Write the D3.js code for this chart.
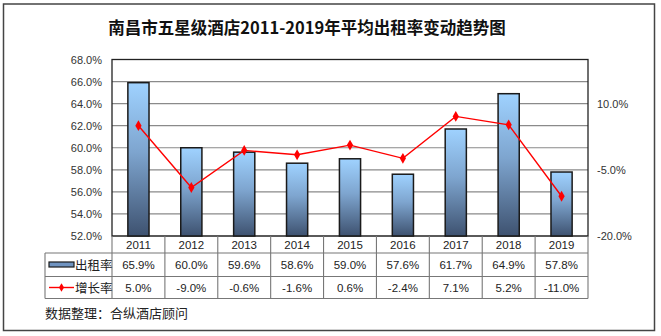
<!DOCTYPE html>
<html>
<head>
<meta charset="utf-8">
<script src="https://cdn.jsdelivr.net/npm/d3@7/dist/d3.min.js"></script>
<style>
  html, body { margin: 0; padding: 0; background: #fff; }
  svg { display: block; }
  text { font-family: "Liberation Sans", Arial, sans-serif; }
  .cjk { font-family: "Noto Sans CJK SC", sans-serif; }
</style>
</head>
<body>
<script>
// Hotel occupancy (left axis) and year-on-year growth (right axis)
const years = ["2011", "2012", "2013", "2014", "2015", "2016", "2017", "2018", "2019"];
const occupancy = [65.9, 60.0, 59.6, 58.6, 59.0, 57.6, 61.7, 64.9, 57.8];
const growth = [5.0, -9.0, -0.6, -1.6, 0.6, -2.4, 7.1, 5.2, -11.0];
const leftTicks = [52, 54, 56, 58, 60, 62, 64, 66, 68];
const rightTicks = [-20, -5, 10];
const seriesNames = ["出租率", "增长率"];

const W = 661, H = 336;
const svg = d3.select("body").append("svg").attr("width", W).attr("height", H);

// frame
svg.append("rect").attr("x", 3.5).attr("y", 4).attr("width", 651).attr("height", 326.5)
  .attr("fill", "none").attr("stroke", "#444").attr("stroke-width", 1.5);

svg.append("text").attr("class", "cjk").attr("x", 307).attr("y", 34)
  .attr("text-anchor", "middle").attr("font-size", 16.5).attr("font-weight", "bold")
  .attr("fill", "#111").text("南昌市五星级酒店2011-2019年平均出租率变动趋势图");

const plot = { left: 112, right: 588, top: 59.5, bottom: 236 };

const x = d3.scaleBand().domain(years).range([plot.left, plot.right]).paddingInner(0).paddingOuter(0);
const yL = d3.scaleLinear().domain([52, 68]).range([plot.bottom, plot.top]);
const yR = d3.scaleLinear().domain([-20, 20]).range([plot.bottom, plot.top]);

const defs = svg.append("defs");
const grad = defs.append("linearGradient").attr("id", "barGrad")
  .attr("x1", 0).attr("y1", 0).attr("x2", 0).attr("y2", 1);
grad.append("stop").attr("offset", "0%").attr("stop-color", "#9fd2ff");
grad.append("stop").attr("offset", "45%").attr("stop-color", "#7ea5cf");
grad.append("stop").attr("offset", "100%").attr("stop-color", "#3e5270");

// gridlines
svg.append("g").selectAll("line").data(leftTicks).join("line")
  .attr("x1", plot.left).attr("x2", plot.right)
  .attr("y1", d => yL(d)).attr("y2", d => yL(d))
  .attr("stroke", "#8a8a8a").attr("stroke-width", 1.2);

// left axis
const axL = svg.append("g").attr("transform", `translate(${plot.left},0)`)
  .call(d3.axisLeft(yL).tickValues(leftTicks).tickSize(0).tickPadding(10)
    .tickFormat(d => d.toFixed(1) + "%"));
axL.select(".domain").remove();
axL.selectAll("text").attr("font-size", 11).attr("fill", "#333")
  .attr("font-family", "'Liberation Sans', Arial, sans-serif");

// right axis
const axR = svg.append("g").attr("transform", `translate(${plot.right},0)`)
  .call(d3.axisRight(yR).tickValues(rightTicks).tickSize(0).tickPadding(9)
    .tickFormat(d => d.toFixed(1) + "%"));
axR.select(".domain").remove();
axR.selectAll("text").attr("font-size", 11).attr("fill", "#333")
  .attr("font-family", "'Liberation Sans', Arial, sans-serif");

// plot frame
svg.append("rect").attr("x", plot.left).attr("y", plot.top)
  .attr("width", plot.right - plot.left).attr("height", plot.bottom - plot.top)
  .attr("fill", "none").attr("stroke", "#222").attr("stroke-width", 1.3);

// bars
const bw = x.bandwidth() * 0.4;
svg.append("g").selectAll("rect").data(occupancy).join("rect")
  .attr("x", (d, i) => x(years[i]) + (x.bandwidth() - bw) / 2)
  .attr("y", d => yL(d))
  .attr("width", bw)
  .attr("height", d => plot.bottom - yL(d))
  .attr("fill", "url(#barGrad)")
  .attr("stroke", "#1a1a1a").attr("stroke-width", 1.5);

// growth line
const cx = i => x(years[i]) + x.bandwidth() / 2;
svg.append("path").datum(growth)
  .attr("d", d3.line().x((d, i) => cx(i)).y(d => yR(d)))
  .attr("fill", "none").attr("stroke", "#ff0000").attr("stroke-width", 1.4);
svg.append("g").selectAll("path").data(growth).join("path")
  .attr("transform", (d, i) => `translate(${cx(i)},${yR(d)})`)
  .attr("d", d3.symbol(d3.symbolDiamond, 34))
  .attr("fill", "#ff0000");

// data table
const rowH = [236, 253, 276.5, 298.5];
const tableLeft = 45;
const tbl = svg.append("g").attr("stroke", "#777").attr("stroke-width", 1.1);
// horizontal lines
tbl.append("line").attr("x1", tableLeft).attr("x2", plot.right).attr("y1", rowH[1]).attr("y2", rowH[1]);
tbl.append("line").attr("x1", tableLeft).attr("x2", plot.right).attr("y1", rowH[2]).attr("y2", rowH[2]);
tbl.append("line").attr("x1", tableLeft).attr("x2", plot.right).attr("y1", rowH[3]).attr("y2", rowH[3]);
// vertical lines
tbl.append("line").attr("x1", tableLeft).attr("x2", tableLeft).attr("y1", rowH[1]).attr("y2", rowH[3]);
tbl.selectAll("line.v").data(years.concat(["end"])).join("line").attr("class", "v")
  .attr("x1", (d, i) => plot.left + i * x.bandwidth())
  .attr("x2", (d, i) => plot.left + i * x.bandwidth())
  .attr("y1", rowH[0]).attr("y2", rowH[3]);

const fmt = v => v.toFixed(1) + "%";
const txt = svg.append("g").attr("font-size", 11.5).attr("fill", "#222").attr("text-anchor", "middle");
txt.selectAll("text.yr").data(years).join("text").attr("class", "yr")
  .attr("x", d => x(d) + x.bandwidth() / 2).attr("y", 249).text(d => d);
txt.selectAll("text.oc").data(occupancy).join("text").attr("class", "oc")
  .attr("x", (d, i) => cx(i)).attr("y", 269).text(fmt);
txt.selectAll("text.gr").data(growth).join("text").attr("class", "gr")
  .attr("x", (d, i) => cx(i)).attr("y", 292).text(fmt);

// legend keys in the table
svg.append("rect").attr("x", 49).attr("y", 262).attr("width", 25).attr("height", 5)
  .attr("fill", "#6f93c0").attr("stroke", "#1a1a1a").attr("stroke-width", 1.2);
svg.append("line").attr("x1", 49).attr("x2", 74).attr("y1", 287.5).attr("y2", 287.5)
  .attr("stroke", "#ff0000").attr("stroke-width", 1.4);
svg.append("path").attr("transform", "translate(61.5,287.5)")
  .attr("d", d3.symbol(d3.symbolDiamond, 22)).attr("fill", "#ff0000");
svg.selectAll("text.ser").data(seriesNames).join("text").attr("class", "ser cjk")
  .attr("x", 75).attr("y", (d, i) => i === 0 ? 270 : 293)
  .attr("font-size", 12.5).attr("fill", "#222").text(d => d);

// source note
svg.append("text").attr("class", "cjk").attr("x", 45).attr("y", 318)
  .attr("font-size", 13).attr("fill", "#222").text("数据整理：合纵酒店顾问");
</script>
</body>
</html>
